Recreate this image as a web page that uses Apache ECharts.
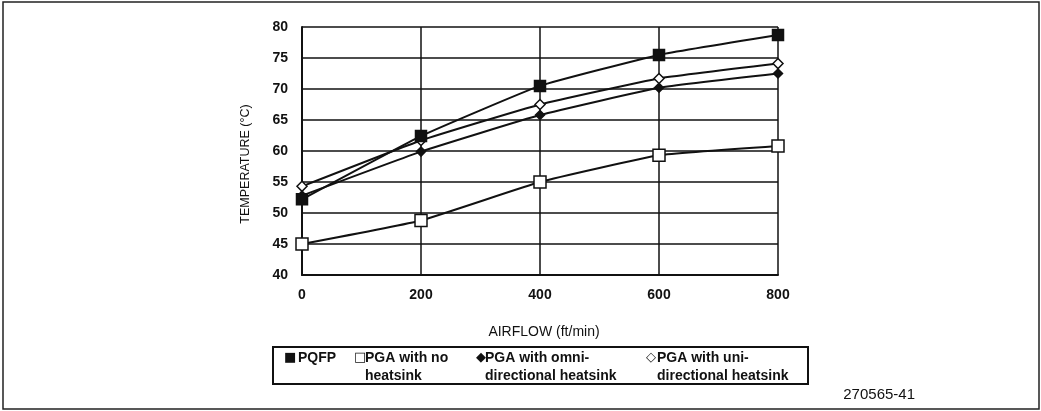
<!DOCTYPE html>
<html>
<head>
<meta charset="utf-8">
<script src="https://cdn.jsdelivr.net/npm/echarts@6/dist/echarts.min.js"></script>
<style>
  html, body { margin: 0; padding: 0; background: #fff; }
  #main { width: 1041px; height: 411px; }
</style>
</head>
<body>
<div id="main"></div>
<script>
var airflow = [0, 200, 400, 600, 800];
var pqfp = [52.2, 62.4, 70.5, 75.5, 78.7];
var pgaNoSink = [45.0, 48.8, 55.0, 59.3, 60.8];
var pgaOmni = [52.8, 59.9, 65.8, 70.2, 72.5];
var pgaUni = [54.3, 61.7, 67.5, 71.7, 74.1];
var names = ['PQFP', 'PGA with no heatsink', 'PGA with omni-directional heatsink', 'PGA with uni-directional heatsink'];
// legend text as printed: glyph, first line, second line
var legendGlyphs = ['■', '□', '◆', '◇'];
var legendLines = [['PQFP', ''], ['PGA with no', 'heatsink'], ['PGA with omni-', 'directional heatsink'], ['PGA with uni-', 'directional heatsink']];

function pairs(ys) {
  return airflow.map(function (x, i) { return [x, ys[i]]; });
}

var font = 'Arial, Liberation Sans, sans-serif';
var myChart = echarts.init(document.getElementById('main'));

function line(name, ys, symbol, size, fill) {
  return {
    name: name,
    type: 'line',
    data: pairs(ys),
    smooth: 0.12,
    symbol: symbol,
    symbolSize: size,
    showAllSymbol: true,
    lineStyle: { color: '#111', width: 2 },
    itemStyle: { color: fill, borderColor: '#111', borderWidth: 1.5 }
  };
}

// one legend per item so each sits where it does in the printed box
var legendLeft = [278, 348, 470, 640];
var glyphWidth = [14, 11, 9, 11];
var legends = names.map(function (n, i) {
  return {
    data: [n],
    left: legendLeft[i],
    top: 351,
    padding: 0,
    itemWidth: 0,
    itemHeight: 0,
    selectedMode: false,
    formatter: function () {
      var l = legendLines[i];
      return '{g|' + legendGlyphs[i] + '}{t|' + l[0] + '}\n{s|}{t|' + (l[1] || ' ') + '}';
    },
    textStyle: {
      color: '#111',
      rich: {
        g: { fontFamily: 'DejaVu Sans', fontSize: 13, width: glyphWidth[i], color: '#111', lineHeight: 18 },
        s: { width: glyphWidth[i], lineHeight: 18 },
        t: { fontFamily: font, fontSize: 14, fontWeight: 'bold', color: '#111', lineHeight: 18 }
      }
    }
  };
});

var option = {
  backgroundColor: '#fff',
  animation: false,
  title: {
    text: '270565-41',
    right: 121,
    top: 382,
    textStyle: { fontFamily: font, fontSize: 15, fontWeight: 'normal', color: '#111' }
  },
  graphic: [
    {
      type: 'rect',
      shape: { x: 3, y: 2, width: 1036, height: 407 },
      style: { fill: 'none', stroke: '#222', lineWidth: 1.5 }
    },
    {
      type: 'rect',
      shape: { x: 273, y: 347, width: 535, height: 37 },
      style: { fill: 'none', stroke: '#111', lineWidth: 2 }
    }
  ],
  legend: legends,
  grid: {
    left: 302,
    right: 263,
    top: 27,
    bottom: 136
  },
  xAxis: {
    type: 'value',
    min: 0,
    max: 800,
    interval: 200,
    name: 'AIRFLOW (ft/min)',
    nameLocation: 'middle',
    nameGap: 50,
    nameTextStyle: { fontFamily: font, fontSize: 14, color: '#111', padding: [0, 0, 0, 8] },
    axisLine: { lineStyle: { color: '#111', width: 2 } },
    axisTick: { show: false },
    axisLabel: { fontFamily: font, fontSize: 14, fontWeight: 'bold', color: '#111', margin: 13 },
    splitLine: { lineStyle: { color: '#111', width: 1.5 } }
  },
  yAxis: {
    type: 'value',
    min: 40,
    max: 80,
    interval: 5,
    name: 'TEMPERATURE (°C)',
    nameLocation: 'middle',
    nameGap: 50,
    nameTextStyle: { fontFamily: font, fontSize: 12.5, color: '#111', padding: [0, 26, 0, 0] },
    axisLine: { show: true, lineStyle: { color: '#111', width: 2 } },
    axisTick: { show: false },
    axisLabel: { fontFamily: font, fontSize: 14, fontWeight: 'bold', color: '#111', margin: 14 },
    splitLine: { lineStyle: { color: '#111', width: 1.5 } }
  },
  series: [
    line(names[1], pgaNoSink, 'rect', 12, '#fff'),
    line(names[2], pgaOmni, 'diamond', 9, '#111'),
    line(names[3], pgaUni, 'diamond', 10, '#fff'),
    line(names[0], pqfp, 'rect', 11, '#111')
  ]
};

myChart.setOption(option);
</script>
</body>
</html>
